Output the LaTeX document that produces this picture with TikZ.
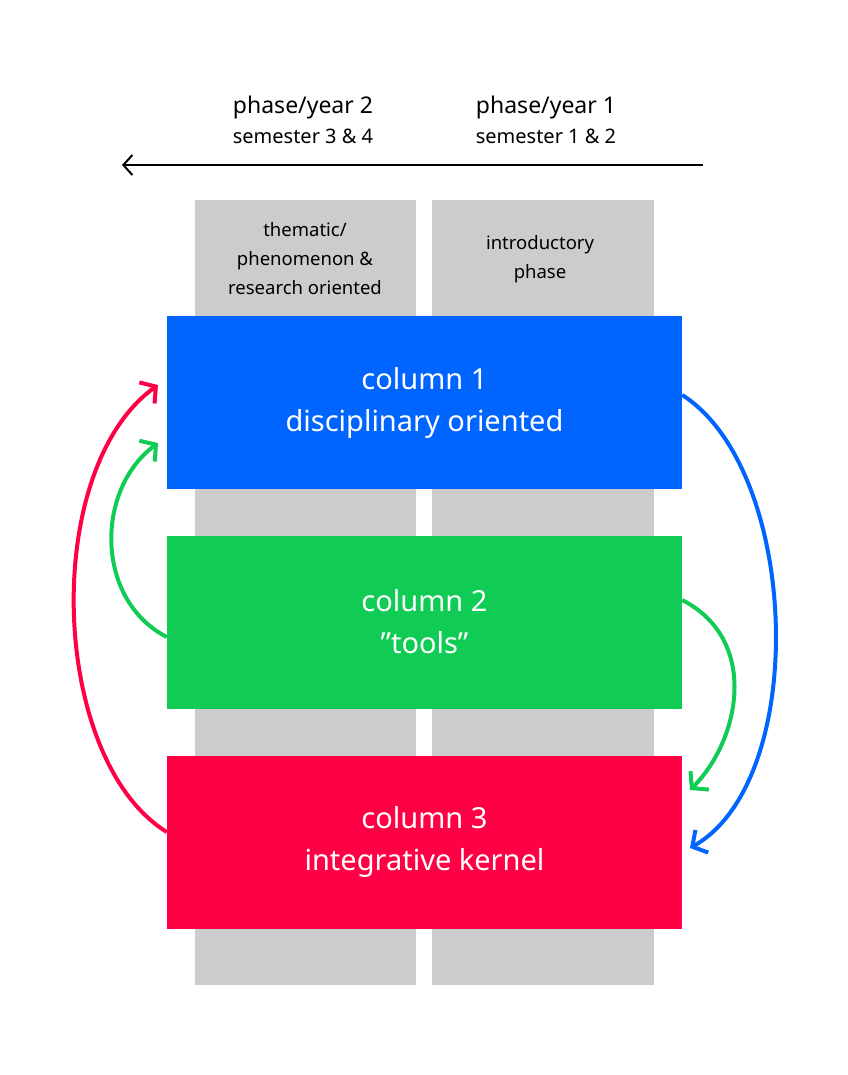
\documentclass[tikz,border=0pt]{standalone}
\usepackage{fontspec}
\setmainfont{Noto Sans}
\usetikzlibrary{arrows.meta}
\definecolor{colblue}{HTML}{0064FF}
\definecolor{colgreen}{HTML}{10CC55}
\definecolor{colred}{HTML}{FF0044}
\definecolor{colgray}{HTML}{CCCCCC}

\begin{document}
\begin{tikzpicture}[
      x=1pt, y=-1pt,
      strip/.style={fill=colgray, draw=none},
      column/.style={draw=none, minimum width=515pt, minimum height=173pt,
        text=white, font=\fontsize{29}{42}\selectfont, align=center},
      note/.style={font=\fontsize{18.5}{29}\selectfont, align=center},
      head/.style={font=\fontsize{23}{34}\selectfont, align=center},
      loop/.style={line width=4pt, -{Straight Barb[length=11pt, width=26pt, line width=4pt]}},
      >=stealth
      ]
      \useasboundingbox (0,0) rectangle (847,1075);

      % background strips
      \fill[strip] (195,200) rectangle (416,985);
      \fill[strip] (432,200) rectangle (654,985);

      % headers
      \node[head] (y2) at (303,120) {phase/year 2\\[-4pt]{\fontsize{20}{24}\selectfont semester 3 \& 4}};
      \node[head] (y1) at (546,120) {phase/year 1\\[-4pt]{\fontsize{20}{24}\selectfont semester 1 \& 2}};
      \coordinate (tstart) at (703,165);
      \coordinate (tend) at (122,165);
      \draw[line width=2pt, -{Straight Barb[length=9pt, width=20pt, line width=2pt]}] (tstart) -- (tend);

      \node[note] (them) at (305,259) {thematic/\\phenomenon \&\\research oriented};
      \node[note] (intro) at (540,259) {introductory\\phase};

      % the three columns
      \node[column, fill=colblue]  (c1) at (424.5,402.5) {column 1\\disciplinary oriented};
      \node[column, fill=colgreen] (c2) at (424.5,622)   {column 2\\"tools"};
      \node[column, fill=colred]   (c3) at (424.5,842)   {column 3\\integrative kernel};

  % Connect the nodes
  \draw[loop, colred] (c3.west |- 0,832) .. controls (50,760) and (40,470) .. (158,385);
  \draw[loop, colgreen] (c2.west |- 0,637) .. controls (95,600) and (95,490) .. (158,443);
  \draw[loop, colblue] (c1.east |- 0,395) .. controls (800,470) and (810,780) .. (690,848);
  \draw[loop, colgreen] (c2.east |- 0,600) .. controls (760,640) and (740,740) .. (690,790);

\end{tikzpicture}
\end{document}
